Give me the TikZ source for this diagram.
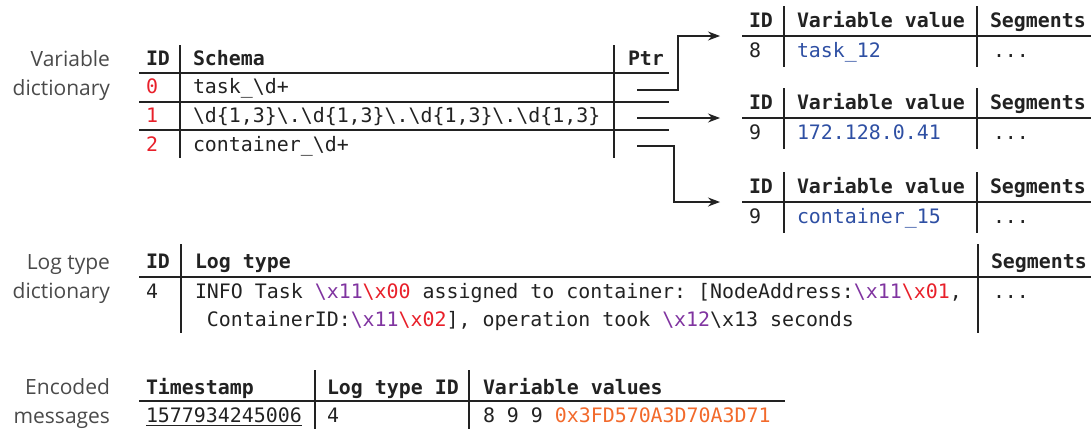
\documentclass[tikz,border=0pt]{standalone}
\usepackage{fontspec}
\setmainfont{Open Sans}
\newfontfamily\monofont{DejaVu Sans Mono}
\usetikzlibrary{arrows.meta}

\definecolor{ink}{HTML}{222222}
\definecolor{lblgray}{HTML}{4A4A4A}
\definecolor{idred}{HTML}{E8202A}
\definecolor{hexpurple}{HTML}{8034A0}
\definecolor{valblue}{HTML}{2E4FA3}
\definecolor{hexorange}{HTML}{F26A2C}

\newcommand\bsl{\textbackslash}
\newcommand\xp[1]{\textcolor{hexpurple}{\bsl x#1}}
\newcommand\xr[1]{\textcolor{idred}{\bsl x#1}}

\tikzset{
  cell/.style={anchor=base west, inner sep=0pt, outer sep=0pt, text=ink,
    font=\monofont\frenchspacing\fontsize{19.9}{24}\selectfont},
  head/.style={cell, font=\monofont\bfseries\frenchspacing\fontsize{19.9}{24}\selectfont},
  lbl/.style={anchor=base east, inner sep=0pt, outer sep=0pt, text=lblgray,
    font=\fontsize{21}{26}\selectfont},
  rule/.style={draw=ink, line width=1.1pt},
  ptr/.style={draw=ink, line width=1.1pt, -{Stealth[length=12pt,width=9pt]}},
}

\begin{document}
\begin{tikzpicture}[x=1pt,y=-1pt]
\useasboundingbox (0,0) rectangle (1091,429);

% ---------- variable dictionary ----------
\node[lbl] (vdlabA) at (110,66) {Variable};
\node[lbl] (vdlabB) at (110,95) {dictionary};

\draw[rule] (139,73) -- (669,73);
\draw[rule] (139,102) -- (669,102);
\draw[rule] (139,130) -- (669,130);
\draw[rule] (180,45) -- (180,158);
\draw[rule] (614,45) -- (614,158);

\node[head] (vdid) at (146,65) {ID};
\node[head] (vdschema) at (193,65) {Schema};
\node[head] (vdptr) at (628,65) {Ptr};

\node[cell,text=idred] (vdid0) at (146,93) {0};
\node[cell,text=idred] (vdid1) at (146,122) {1};
\node[cell,text=idred] (vdid2) at (146,151) {2};
\node[cell] (vds0) at (193,93) {task\_\bsl d+};
\node[cell] (vds1) at (193,122) {\bsl d\{1,3\}\bsl .\bsl d\{1,3\}\bsl .\bsl d\{1,3\}\bsl .\bsl d\{1,3\}};
\node[cell] (vds2) at (193,151) {container\_\bsl d+};

\coordinate (p0) at (637,90);
\coordinate (p1) at (637,118);
\coordinate (p2) at (637,146);

% ---------- variable value tables ----------
\foreach \u/\nm/\id/\val in {36/a/8/task\_12, 118/b/9/172.128.0.41, 202/c/9/container\_15}{
  \draw[rule] (742,\u) -- (1091,\u);
  \draw[rule] (784,\u-30) -- (784,\u+31);
  \draw[rule] (977,\u-30) -- (977,\u+31);
  \node[head] (vv\nm-hid) at (749,\u-9) {ID};
  \node[head] (vv\nm-hval) at (797,\u-9) {Variable value};
  \node[head] (vv\nm-hseg) at (990,\u-9) {Segments};
  \node[cell] (vv\nm-id) at (749,\u+21) {\id};
  \node[cell,text=valblue] (vv\nm-val) at (797,\u+21) {\val};
  \node[cell] (vv\nm-seg) at (993,\u+21) {...};
  \coordinate (t\nm) at (720,\u);
}

\draw[ptr] (p0) -| ([xshift=-42pt]ta) -- (ta);
\draw[ptr] (p1) -- (tb);
\draw[ptr] (p2) -| ([xshift=-46pt]tc) -- (tc);

% ---------- log type dictionary ----------
\node[lbl] (ltlabA) at (110,269) {Log type};
\node[lbl] (ltlabB) at (110,298) {dictionary};

\draw[rule] (139,277) -- (1091,277);
\draw[rule] (181,244) -- (181,333);
\draw[rule] (978,244) -- (978,333);

\node[head] (ltid) at (146,268) {ID};
\node[head] (lttype) at (195,268) {Log type};
\node[head] (ltseg) at (991,268) {Segments};

\node[cell] (ltrow) at (146,298) {4};
\node[cell] (ltl1) at (195,298) {INFO Task \xp{11}\xr{00} assigned to container: [NodeAddress:\xp{11}\xr{01},};
\node[cell] (ltl2) at (195,326) {\ ContainerID:\xp{11}\xr{02}], operation took \xp{12}\bsl x13 seconds};
\node[cell] (ltsegv) at (993,298) {...};

% ---------- encoded messages ----------
\node[lbl] (emlabA) at (110,394) {Encoded};
\node[lbl] (emlabB) at (110,423) {messages};

\draw[rule] (139,401) -- (785,401);
\draw[rule] (315,370) -- (315,429);
\draw[rule] (469,370) -- (469,429);

\node[head] (emts) at (146,394) {Timestamp};
\node[head] (emlt) at (327,394) {Log type ID};
\node[head] (emvv) at (483,394) {Variable values};

\node[cell] (emtsv) at (146,422) {1577934245006};
\draw[draw=ink, line width=1pt] ([yshift=-3pt]emtsv.base west) -- ([yshift=-3pt]emtsv.base east);
\node[cell] (emltv) at (327,422) {4};
\node[cell] (emvvv) at (483,422) {8 9 9 \textcolor{hexorange}{0x3FD570A3D70A3D71}};
\end{tikzpicture}
\end{document}
